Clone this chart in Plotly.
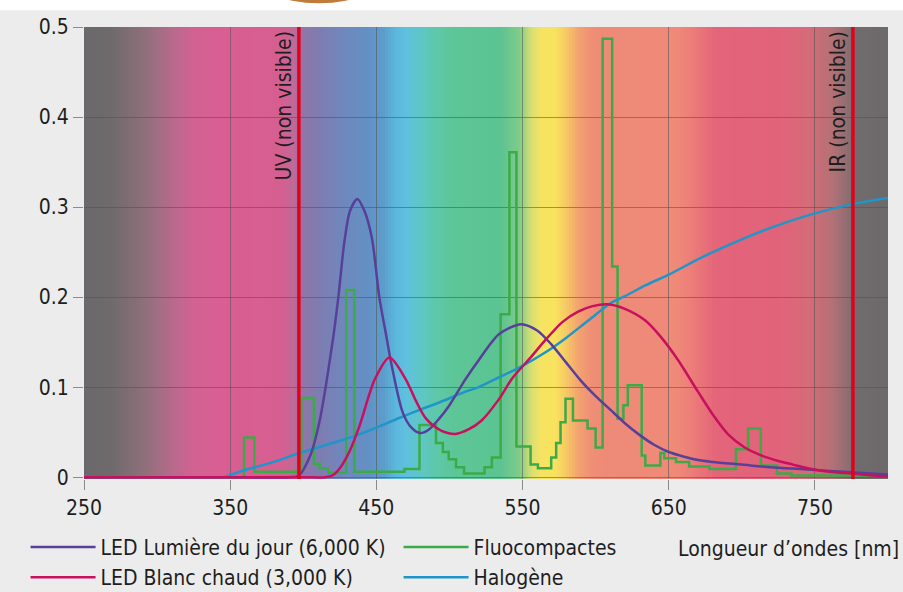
import plotly.graph_objects as go

# ---------------- data ----------------
# LED Lumière du jour (6,000 K)
day_nm = [250, 300, 350, 390, 397, 405, 411, 420, 424, 428, 432, 437, 442, 447, 452, 457, 460, 468,
          474, 480, 486, 493, 500, 511, 520, 534, 549, 560, 570, 580, 590, 600, 610, 620, 630, 640,
          650, 660, 670, 680, 700, 720, 740, 760, 780, 800]
day_val = [0, 0, 0, 0, 0.002, 0.025, 0.061, 0.15, 0.2, 0.26, 0.296, 0.309, 0.295, 0.265, 0.2,
           0.155, 0.128, 0.072, 0.055, 0.049, 0.053, 0.065, 0.08, 0.109, 0.13, 0.159, 0.17, 0.163,
           0.147, 0.127, 0.107, 0.09, 0.075, 0.06, 0.047, 0.036, 0.028, 0.023, 0.019, 0.017,
           0.014, 0.011, 0.009, 0.007, 0.005, 0.003]

# LED Blanc chaud (3,000 K)
warm_nm = [250, 300, 350, 400, 415, 420, 425, 432, 438.5, 449, 459, 470, 477, 484, 494, 504,
           513, 522, 534, 543, 555, 566, 577, 588, 598, 608, 620, 634, 645, 656, 670, 680, 691,
           702, 712, 725, 735, 745, 760, 775, 790, 800]
warm_val = [0, 0, 0, 0, 0, 0.002, 0.01, 0.03, 0.057, 0.109, 0.133, 0.109, 0.085, 0.065, 0.052,
            0.048, 0.053, 0.063, 0.087, 0.11, 0.132, 0.153, 0.172, 0.184, 0.19, 0.192, 0.187,
            0.174, 0.155, 0.131, 0.095, 0.07, 0.047, 0.033, 0.025, 0.018, 0.014, 0.01, 0.006,
            0.004, 0.002, 0.001]

# Halogène
halo_nm = [346, 360, 380, 396, 420, 434, 450, 466, 480, 493, 511, 520, 534, 548, 566, 580, 595,
           611, 620, 634, 650, 675, 704, 725, 750, 775, 800]
halo_val = [0, 0.008, 0.017, 0.026, 0.038, 0.045, 0.055, 0.066, 0.075, 0.083, 0.095, 0.1, 0.111,
            0.122, 0.139, 0.155, 0.174, 0.194, 0.201, 0.213, 0.225, 0.246, 0.267, 0.28, 0.293,
            0.303, 0.31]

# Fluocompactes (step spectrum: value holds from each wavelength to the next)
fluo_nm = [250, 359.5, 366.5, 398.7, 407.3, 411.2, 417, 429.4, 435, 469.2, 479.5, 490.8, 495.5,
           499.5, 504.5, 510, 524, 529, 535, 541, 545.8, 555.5, 560.5, 569.6, 573, 576, 579.4,
           584.5, 594.5, 600, 604.8, 611.3, 615, 619, 622, 631.5, 634, 644.3, 647, 655, 664, 678,
           696, 704.3, 713, 724, 734, 800]
fluo_val = [0.0, 0.044, 0.006, 0.088, 0.015, 0.01, 0.005, 0.208, 0.006, 0.009, 0.058, 0.038,
            0.028, 0.02, 0.011, 0.004, 0.011, 0.022, 0.181, 0.361, 0.034, 0.014, 0.01, 0.022,
            0.038, 0.061, 0.087, 0.063, 0.054, 0.033, 0.487, 0.234, 0.065, 0.08, 0.102, 0.024,
            0.013, 0.027, 0.021, 0.017, 0.012, 0.009, 0.031, 0.054, 0.013, 0.004, 0.002, 0.002]

x_ticks = [250, 350, 450, 550, 650, 750]
y_ticks = [0, 0.1, 0.2, 0.3, 0.4, 0.5]
y_ticktext = ["0", "0.1", "0.2", "0.3", "0.4", "0.5"]
uv_nm = 397
ir_nm = 776

# background spectrum colour stops
spec_nm = [250, 268, 290, 310, 325, 345, 385, 394, 400, 412, 428, 445, 455, 463, 470, 480, 490,
           502, 535, 548, 556, 563, 572, 580, 588, 597, 607, 655, 668, 682, 725, 745, 762, 773,
           778, 800]
spec_col = ["#6b696b", "#6e6a6c", "#8c7079", "#b56b8c", "#d26292", "#d95e93", "#d65f91",
            "#be6a98", "#8f76a8", "#7d7db2", "#6f88bd", "#6391c5", "#5c9dcc", "#5cb7dd",
            "#5fc0de", "#5ec6c8", "#5ec8ac", "#5dc698", "#5cc492", "#80cc8a", "#d8df72",
            "#f6e362", "#f9e35e", "#f7c966", "#f2a46f", "#ef8f76", "#ee8a78", "#ef8a79",
            "#ec7a79", "#e4657a", "#e1637a", "#d66b79", "#b37176", "#8e6d71", "#716b6c",
            "#6d6a6b"]

FONT = "'Liberation Sans Narrow', 'Arial Narrow', 'DejaVu Sans Condensed', sans-serif"
FS = 21
TXT = "#1e1e1e"
C_DAY = "#58409a"
C_WARM = "#c8105e"
C_FLUO = "#3cab47"
C_HALO = "#2095c8"
C_RED = "#e3001b"


def hex2rgb(h):
    h = h.lstrip("#")
    return tuple(int(h[i:i + 2], 16) for i in (0, 2, 4))


def spec_color(nm):
    for i in range(len(spec_nm) - 1):
        if spec_nm[i] <= nm <= spec_nm[i + 1]:
            t = (nm - spec_nm[i]) / (spec_nm[i + 1] - spec_nm[i])
            a, b = hex2rgb(spec_col[i]), hex2rgb(spec_col[i + 1])
            c = [round(a[k] + (b[k] - a[k]) * t) for k in range(3)]
            return "rgb(%d,%d,%d)" % tuple(c)
    return spec_col[-1]


fig = go.Figure()

fig.add_trace(go.Scatter(x=fluo_nm, y=fluo_val, mode="lines", line=dict(color=C_FLUO, width=2.5, shape="hv"),
                         name="Fluocompactes", legendrank=2))
fig.add_trace(go.Scatter(x=halo_nm, y=halo_val, mode="lines", line=dict(color=C_HALO, width=2.5, shape="spline"),
                         name="Halogène", legendrank=4))
fig.add_trace(go.Scatter(x=day_nm, y=day_val, mode="lines", line=dict(color=C_DAY, width=2.5, shape="spline", smoothing=0.8),
                         name="LED Lumière du jour (6,000 K)", legendrank=1))
fig.add_trace(go.Scatter(x=warm_nm, y=warm_val, mode="lines", line=dict(color=C_WARM, width=2.5, shape="spline", smoothing=0.8),
                         name="LED Blanc chaud (3,000 K)", legendrank=3))

shapes = []
# spectrum background (below grid)
step = 2
nm = 250
while nm < 800:
    shapes.append(dict(type="rect", xref="x", yref="paper", x0=nm, x1=min(nm + step + 0.6, 800), y0=0, y1=1,
                       fillcolor=spec_color(nm + step / 2), line=dict(width=0), layer="below"))
    nm += step
# UV / IR limits
for v in (uv_nm, ir_nm):
    shapes.append(dict(type="line", xref="x", yref="paper", x0=v, x1=v, y0=0, y1=1,
                       line=dict(color=C_RED, width=3.5), layer="above"))
# white strip at the very top and cropped medallion
shapes.append(dict(type="rect", xref="paper", yref="paper", x0=-0.2, x1=1.2, y0=1.037, y1=1.2,
                   fillcolor="white", line=dict(width=0), layer="above"))
shapes.append(dict(type="circle", xref="paper", yref="paper", x0=0.1219, x1=0.4626, y0=1.0524, y1=1.6586,
                   fillcolor="#c07a3a", line=dict(width=0), layer="above"))

annotations = [
    dict(text="UV (non visible)", x=uv_nm, xref="x", y=0.5, yref="y", xanchor="right", yanchor="top",
         textangle=-90, showarrow=False, xshift=-1, yshift=-2, font=dict(family=FONT, size=FS, color=TXT)),
    dict(text="IR (non visible)", x=ir_nm, xref="x", y=0.5, yref="y", xanchor="right", yanchor="top",
         textangle=-90, showarrow=False, xshift=-1, yshift=-2, font=dict(family=FONT, size=FS, color=TXT)),
    dict(text="Longueur d’ondes [nm]", x=1.0165, xref="paper", y=-0.1555, yref="paper", xanchor="right",
         yanchor="middle", showarrow=False, font=dict(family=FONT, size=FS, color=TXT)),
]

fig.update_layout(
    width=903, height=592,
    margin=dict(l=83.5, r=15.3, t=26.7, b=113.3, autoexpand=False),
    paper_bgcolor="#ececec", plot_bgcolor="#ececec",
    font=dict(family=FONT, size=FS, color=TXT),
    shapes=shapes, annotations=annotations,
    showlegend=True,
    legend=dict(orientation="h", x=-0.0727, xanchor="left", y=-0.1058, yanchor="top",
                bgcolor="rgba(0,0,0,0)", itemwidth=65, entrywidth=293, entrywidthmode="pixels",
                font=dict(family=FONT, size=FS, color=TXT), tracegroupgap=0, itemclick=False),
    xaxis=dict(range=[250, 800], tickvals=x_ticks, ticks="outside", ticklen=10, tickcolor="#8a8a8a",
               showgrid=True, gridcolor="rgba(80,80,80,0.55)", gridwidth=1, zeroline=False, showline=False,
               tickfont=dict(family=FONT, size=FS, color=TXT)),
    yaxis=dict(range=[-0.002, 0.5], tickvals=y_ticks, ticktext=y_ticktext,
               ticks="outside", ticklen=10, tickcolor="#8a8a8a",
               showgrid=True, gridcolor="rgba(80,80,80,0.55)", gridwidth=1, zeroline=False, showline=False,
               tickfont=dict(family=FONT, size=FS, color=TXT)),
)

# remove the browser's default page margin so the 903x592 figure fills the window exactly
fig.write_html("out.html", config={"displayModeBar": False},
               post_script="document.body.style.margin='0';document.body.style.overflow='hidden';")
